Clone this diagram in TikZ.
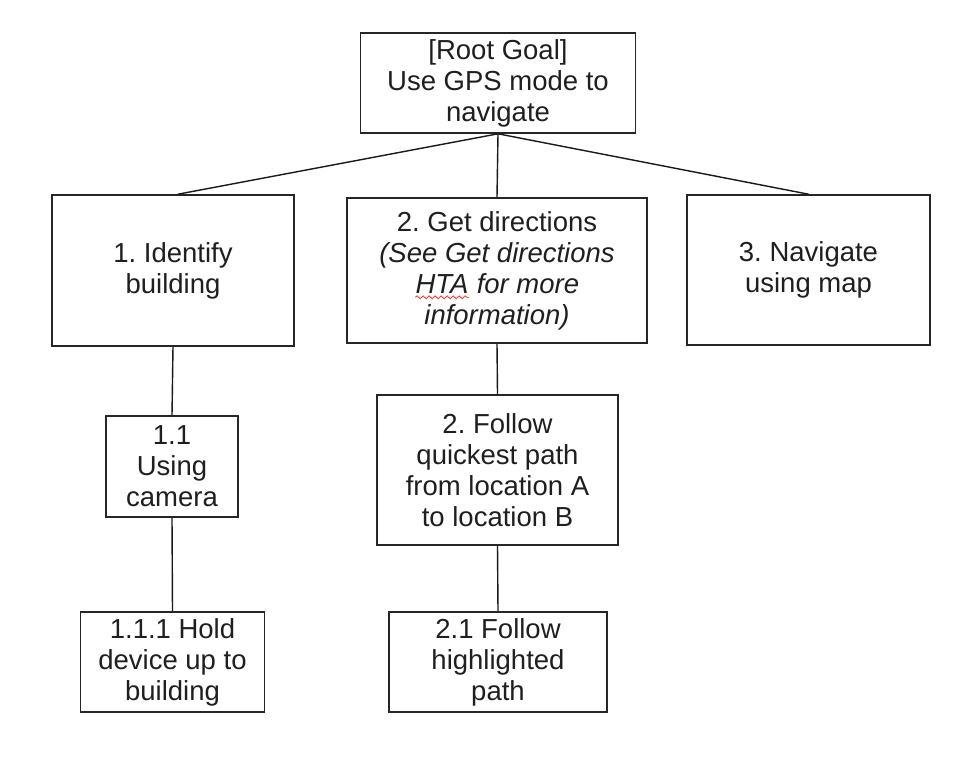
\documentclass[tikz,border=0pt]{standalone}
\usepackage{fontspec}
\setmainfont{Liberation Sans}
\frenchspacing
\usetikzlibrary{decorations.pathmorphing}
\tikzset{
  box/.style={draw=black!85, line width=1.6pt, fill=white, align=center, inner sep=0pt,
    font=\fontsize{27.5}{31}\selectfont\frenchspacing, text=black!88},
  conn/.style={draw=black!90, line width=1.4pt},
  plain/.style={draw=none, fill=none, minimum width=0pt, minimum height=0pt, inner sep=0pt, anchor=base},
}
\begin{document}
\begin{tikzpicture}[x=1pt,y=-1pt]
\fill[white] (0,0) rectangle (974,760);
\useasboundingbox (0,0) rectangle (974,760);
\node[box, minimum width=275pt, minimum height=100pt] (root) at (498,83) {[Root Goal]\\Use GPS mode to\\navigate};
\node[box, minimum width=242pt, minimum height=151pt] (b1) at (173,270.5) {1. Identify\\building};
\node[box, minimum width=300pt, minimum height=145pt] (b2) at (497,270.5) {2. Get directions\\\textit{(See Get directions}\\\textit{\tikz[baseline=(h.base)]{\node[plain] (h) {HTA}; \draw[red!75, line width=0.9pt, decorate, decoration={snake, segment length=6pt, amplitude=1.4pt}] ([yshift=-4pt]h.south west) -- ([yshift=-4pt]h.south east);} for more}\\\textit{information)}};
\node[box, minimum width=243pt, minimum height=150pt] (b3) at (808.5,270) {3. Navigate\\using map};
\node[box, minimum width=132pt, minimum height=101pt] (b11) at (172,466.5) {1.1\\Using\\camera};
\node[box, minimum width=241pt, minimum height=150pt] (b2f) at (497.5,470) {2. Follow\\quickest path\\from location A\\to location B};
\node[box, minimum width=184pt, minimum height=100pt] (b111) at (172.5,662) {1.1.1 Hold\\device up to\\building};
\node[box, minimum width=218pt, minimum height=100pt] (b21) at (498,662) {2.1 Follow\\highlighted\\path};
\draw[conn] (root.south) -- ([xshift=5pt]b1.north);
\draw[conn] (root.south) -- (b2.north);
\draw[conn] (root.south) -- (b3.north);
\draw[conn] (b1.south) -- (b11.north);
\draw[conn] (b11.south) -- (b111.north);
\draw[conn] (b2.south) -- (b2f.north);
\draw[conn] (b2f.south) -- (b21.north);
\end{tikzpicture}
\end{document}
